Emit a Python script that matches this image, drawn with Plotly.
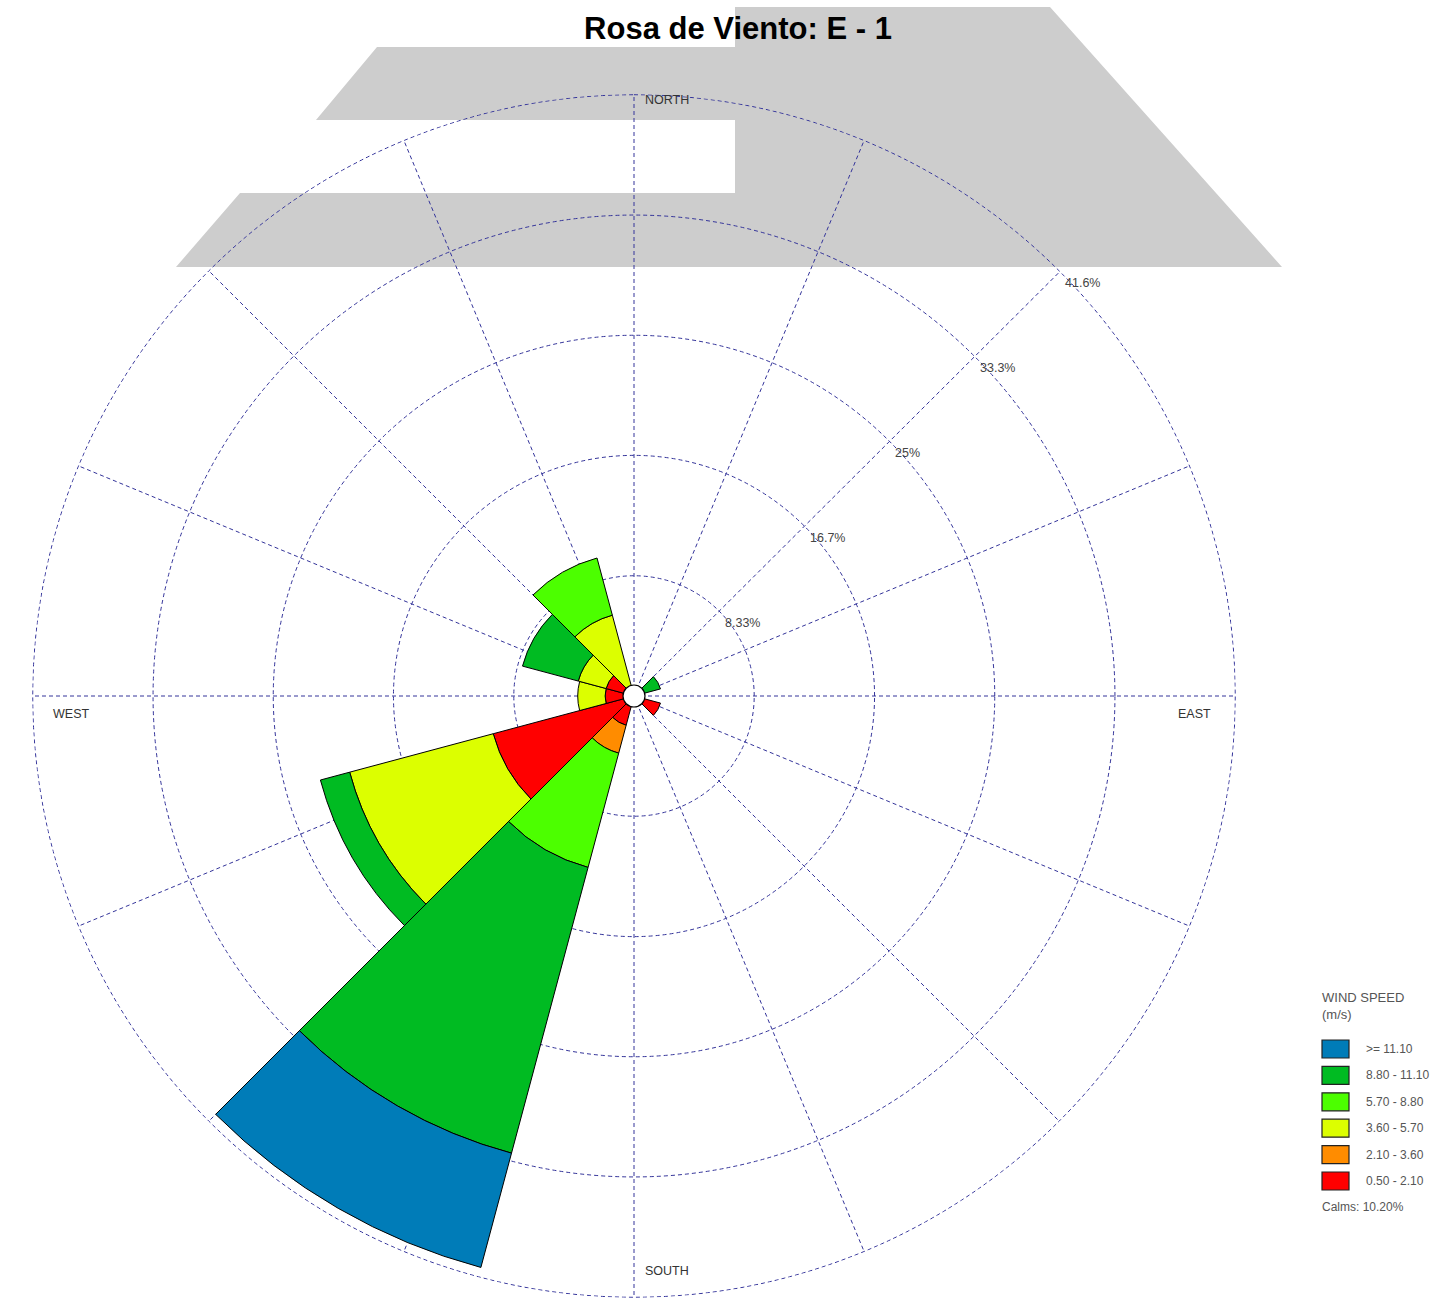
import math
import plotly.graph_objects as go

# ---- Data -------------------------------------------------------------
# 12 direction sectors (degrees, blowing from), 30 degrees wide each
directions = [0, 30, 60, 90, 120, 150, 180, 210, 240, 270, 300, 330]

# Frequency (%) of each wind-speed class per sector (None = no data)
freq_050_210 = [None, None, None, None, 1.9, None, None, 2.1, 10.1, 2.0, 2.0, None]
freq_210_360 = [None, None, None, None, None, None, None, 2.0, None, None, None, None]
freq_360_570 = [None, None, None, None, None, None, None, None, 10.3, 1.9, 2.0, 5.8]
freq_570_880 = [None, None, None, None, None, None, None, 8.2, None, None, None, 4.1]
freq_880_1110 = [None, None, 1.9, None, None, None, None, 20.5, 2.1, None, 4.0, None]
freq_ge_1110 = [None, None, None, None, None, None, None, 8.2, None, None, None, None]

speed_labels = ["0.50 - 2.10", "2.10 - 3.60", "3.60 - 5.70",
                "5.70 - 8.80", "8.80 - 11.10", ">= 11.10"]
speed_colors = ["#ff0000", "#ff8c00", "#dcff00", "#4cff00", "#00bb22", "#007cb8"]
calms_pct = 10.20

ring_values = [8.33, 16.67, 25.0, 33.33, 41.67]
ring_labels = ["8.33%", "16.7%", "25%", "33.3%", "41.6%"]
# 16 compass spokes; the NE one is nudged a hair off the exact diagonal
# so its dashes render with the same weight as the others
spoke_angles = [i * 22.5 + (0.1 if i == 2 else 0.0) for i in range(16)]
r_max = 41.72

# ---- Figure geometry helpers (pixel -> paper) -------------------------
W, H = 1450, 1312


def px(x):
    return x / W


def py(y):
    return 1 - y / H


CX, CY, R = 634, 696, 602  # rose centre and radius in pixels

grid_color = "#34349a"
grid_dash = "4px,3px"
text_font = "Liberation Sans, Arial, sans-serif"

fig = go.Figure()

# Outermost percentage ring (dashed, like the inner grid rings)
outer_theta = list(range(0, 361))
fig.add_trace(go.Scatterpolar(
    r=[ring_values[-1]] * len(outer_theta), theta=outer_theta, mode="lines",
    line=dict(color=grid_color, width=1, dash=grid_dash),
    showlegend=False, hoverinfo="skip",
))

series = [freq_050_210, freq_210_360, freq_360_570,
          freq_570_880, freq_880_1110, freq_ge_1110]
for values, name, color in zip(series, speed_labels, speed_colors):
    fig.add_trace(go.Barpolar(
        r=values,
        theta=directions,
        width=[30] * len(directions),
        name=name,
        marker=dict(color=color, line=dict(color="black", width=1)),
        showlegend=False,
        hoverinfo="skip",
    ))

# Calm circle in the middle
fig.add_trace(go.Scatterpolar(
    r=[0], theta=[0], mode="markers",
    marker=dict(size=22, color="white", line=dict(color="black", width=1.2)),
    showlegend=False, hoverinfo="skip",
))

# ---- Background band behind the top of the rose ------------------------
band = [(735, 7), (1050, 7), (1282, 267), (176, 267), (240, 193), (735, 193),
        (735, 120), (316, 120), (377, 47), (735, 47)]
path = "M " + " L ".join(f"{px(x):.5f},{py(y):.5f}" for x, y in band) + " Z"
shapes = [dict(type="path", xref="paper", yref="paper", path=path,
               fillcolor="#cdcdcd", line=dict(width=0), layer="below")]

annotations = []

# Compass labels
for text, x, y in [("NORTH", 643, 100), ("SOUTH", 643, 1271),
                   ("WEST", 51, 714), ("EAST", 1176, 714)]:
    annotations.append(dict(text=text, x=px(x), y=py(y), xref="paper", yref="paper",
                            xanchor="left", yanchor="middle", showarrow=False,
                            font=dict(family=text_font, size=12.5, color="#333333")))

# Ring percentage labels, set just outside each ring on the NE spoke
for val, lab in zip(ring_values, ring_labels):
    rp = val / r_max * R
    ang = math.radians(45)
    annotations.append(dict(text=lab, x=px(CX + rp * math.sin(ang)),
                            y=py(CY - rp * math.cos(ang)), xref="paper", yref="paper",
                            xanchor="left", yanchor="middle", xshift=4, yshift=-12,
                            showarrow=False,
                            font=dict(family=text_font, size=12.5, color="#444444")))

# ---- Legend (drawn manually with boxes) --------------------------------
LX, LY0, LSTEP = 1322, 1049, 26.4
annotations.append(dict(text="WIND SPEED<br>(m/s)", x=px(1320), y=py(988), xref="paper",
                        yref="paper", xanchor="left", yanchor="top", align="left",
                        showarrow=False,
                        font=dict(family=text_font, size=13, color="#555555")))
for i, (name, color) in enumerate(zip(speed_labels[::-1], speed_colors[::-1])):
    yc = LY0 + i * LSTEP
    shapes.append(dict(type="rect", xref="paper", yref="paper",
                       x0=px(LX), x1=px(LX + 27), y0=py(yc - 9), y1=py(yc + 9),
                       fillcolor=color, line=dict(color="#222222", width=1.2)))
    annotations.append(dict(text=name, x=px(1364), y=py(yc), xref="paper", yref="paper",
                            xanchor="left", yanchor="middle", showarrow=False,
                            font=dict(family=text_font, size=12, color="#555555")))
annotations.append(dict(text=f"Calms: {calms_pct:.2f}%", x=px(1320), y=py(1207),
                        xref="paper", yref="paper", xanchor="left", yanchor="middle",
                        showarrow=False,
                        font=dict(family=text_font, size=12, color="#555555")))

fig.update_layout(
    width=W, height=H, autosize=False,
    margin=dict(l=0, r=0, t=0, b=0),
    paper_bgcolor="white",
    title=dict(text="<b>Rosa de Viento: E - 1</b>", x=px(738), y=py(28),
               xanchor="center", yanchor="middle",
               font=dict(family=text_font, size=31, color="black")),
    polar=dict(
        domain=dict(x=[px(CX - R), px(CX + R)], y=[py(CY + R), py(CY - R)]),
        bgcolor="rgba(0,0,0,0)",
        barmode="stack",
        bargap=0,
        angularaxis=dict(rotation=90, direction="clockwise", tickmode="array",
                         tickvals=spoke_angles, showticklabels=False, ticks="",
                         showline=False, showgrid=True, gridcolor=grid_color,
                         griddash=grid_dash, gridwidth=1, layer="below traces"),
        # radial axis sits on the SW spoke, hidden under the bars
        radialaxis=dict(range=[0, r_max], tickmode="array",
                        tickvals=ring_values, showticklabels=False, angle=225,
                        showline=False, linecolor="rgba(0,0,0,0)", linewidth=0,
                        ticks="", showgrid=True, gridcolor=grid_color,
                        griddash=grid_dash, gridwidth=1, layer="below traces"),
    ),
    shapes=shapes,
    annotations=annotations,
)

fig.write_html("out.html")
